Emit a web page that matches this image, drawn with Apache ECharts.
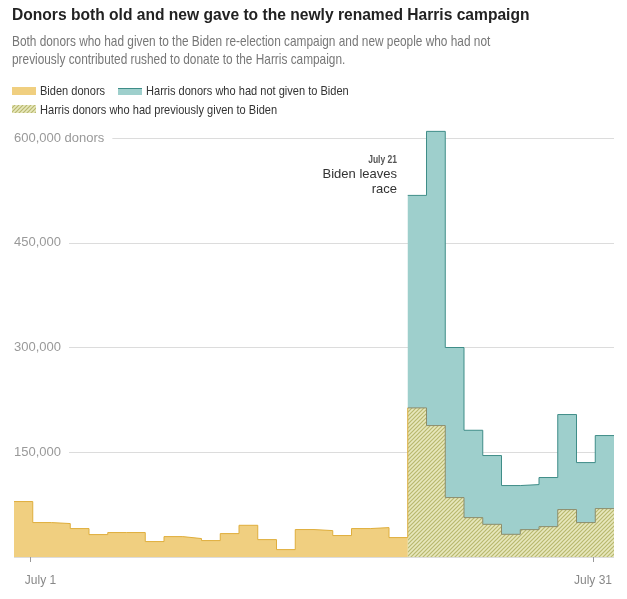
<!DOCTYPE html>
<html><head><meta charset="utf-8">
<script src="https://cdn.jsdelivr.net/npm/echarts@6/dist/echarts.min.js"></script>
<style>html,body{margin:0;padding:0;background:#fff}#c{width:627px;height:599px}</style>
</head><body><div id="c"></div>
<script>
// ---- data (day index 0 = June 30, 21 = July 21, 31 = July 31) ----
const dayLabels = ['June 30','July 1','July 2','July 3','July 4','July 5','July 6','July 7','July 8','July 9','July 10','July 11','July 12','July 13','July 14','July 15','July 16','July 17','July 18','July 19','July 20','July 21','July 22','July 23','July 24','July 25','July 26','July 27','July 28','July 29','July 30','July 31'];
const bidenDonors = [79400,49300,47900,40700,32100,35000,35000,22100,29200,26400,23500,33500,45400,24900,10600,39300,37800,30700,40700,42100,27800];
const harrisPrevBiden = [213500,188200,85100,56400,46800,32500,39200,43500,67900,49300,69300];
const harrisNew = [304300,421300,214900,125100,98500,69800,64500,70300,136100,85900,104600];
const yTicks = [0,150000,300000,450000,600000];
const xTickDays = [1,31];
const xTickLabels = ['July 1','July 31'];

const FA = '"Liberation Sans",Arial,sans-serif';

// hatch pattern
function hatch(){
  const s=4, c=document.createElement('canvas'); c.width=s; c.height=s;
  const g=c.getContext('2d');
  g.fillStyle='#e8e8bd'; g.fillRect(0,0,s,s);
  g.strokeStyle='#b8b86e'; g.lineWidth=1.2;
  g.beginPath();
  g.moveTo(0,s); g.lineTo(s,0);
  g.moveTo(-1,1); g.lineTo(1,-1);
  g.moveTo(s-1,s+1); g.lineTo(s+1,s-1);
  g.stroke();
  return c;
}
const hatchFill = {image: hatch(), repeat: 'repeat'};

const hStart = bidenDonors.length;
const bidenData = bidenDonors.map((v,i)=>[i,v]);
bidenData.push([hStart, bidenDonors[bidenDonors.length-1]]);
bidenData.push([hStart, harrisPrevBiden[0]]);
const prevData = harrisPrevBiden.map((v,i)=>[hStart+i,v]);
prevData.push([hStart+harrisPrevBiden.length, harrisPrevBiden[harrisPrevBiden.length-1]]);
const totalData = harrisNew.map((v,i)=>[hStart+i, v+harrisPrevBiden[i]]);
totalData.push([hStart+harrisNew.length, harrisNew[harrisNew.length-1]+harrisPrevBiden[harrisPrevBiden.length-1]]);

const fmt = v => v===0 ? '' : (v===yTicks[yTicks.length-1] ? v.toLocaleString('en-US')+' donors' : v.toLocaleString('en-US'));
const tickOffset = -0.12;

const chart = echarts.init(document.getElementById('c'));
chart.setOption({
  animation:false,
  backgroundColor:'#fff',
  grid:{left:14,right:13,top:138,bottom:42,containLabel:false},
  xAxis:{type:'value',min:0,max:dayLabels.length,
    offset:9,
    axisLine:{show:false},
    splitLine:{show:false},
    axisTick:{show:true,length:5,lineStyle:{color:'#999'},customValues:xTickDays.map(d=>d+tickOffset)},
    axisLabel:{customValues:xTickDays.map(d=>d+tickOffset),margin:9,color:'#888',fontFamily:FA,fontSize:12,
      formatter:v=>{const i=xTickDays.findIndex(d=>Math.abs(d+tickOffset-v)<1e-6); return i===0?'{a|'+xTickLabels[i]+'}':xTickLabels[i];},
      rich:{a:{padding:[0,0,0,20],color:'#888',fontFamily:FA,fontSize:12}}}
  },
  yAxis:[{type:'value',min:yTicks[0],max:yTicks[yTicks.length-1],interval:yTicks[1]-yTicks[0],
    axisLine:{show:false},axisTick:{show:false},axisLabel:{show:false},
    splitLine:{show:true,lineStyle:{color:'#dcdcdc',width:1}}},
   {type:'value',min:yTicks[0],max:yTicks[yTicks.length-1],interval:yTicks[1]-yTicks[0],z:5,
    position:'left',axisLine:{show:false},axisTick:{show:false},splitLine:{show:false},
    axisLabel:{inside:true,margin:0,showMinLabel:false,color:'#999',fontFamily:FA,fontSize:13,formatter:fmt,
      backgroundColor:'#fff',padding:[2,8,2,0]}}],
  series:[
    {name:'Harris donors who had not given to Biden',type:'line',step:'end',data:totalData,symbol:'none',clip:false,z:2,
      lineStyle:{color:'#3f8d88',width:1},areaStyle:{color:'#9ecfcc',opacity:1}},
    {name:'Harris donors who had previously given to Biden',type:'line',step:'end',data:prevData,symbol:'none',clip:false,z:3,
      lineStyle:{color:'#8c8d6c',width:1},areaStyle:{color:hatchFill,opacity:1}},
    {name:'Biden donors',type:'line',step:'end',data:bidenData,symbol:'none',clip:false,z:4,
      lineStyle:{color:'#dfae3c',width:1},areaStyle:{color:'#f0cf80',opacity:1}}
  ],
  graphic:[
    {type:'text',x:12,y:16,scaleX:0.975,style:{text:'Donors both old and new gave to the newly renamed Harris campaign',font:'bold 16px '+FA,fill:'#222',verticalAlign:'middle'}},
    {type:'text',x:12,y:33,scaleX:0.79,style:{text:'Both donors who had given to the Biden re-election campaign and new people who had not\npreviously contributed rushed to donate to the Harris campaign.',font:'15px '+FA,fill:'#777',lineHeight:18}},
    {type:'rect',shape:{x:12,y:87,width:24,height:8},style:{fill:'#f0cf80'}},
    {type:'text',x:40,y:91,scaleX:0.85,style:{text:'Biden donors',font:'13px '+FA,fill:'#333',verticalAlign:'middle'}},
    {type:'rect',shape:{x:118,y:88,width:24,height:7},style:{fill:'#9ecfcc'}},
    {type:'rect',shape:{x:118,y:88,width:24,height:1},style:{fill:'#3f8d88'}},
    {type:'text',x:146,y:91,scaleX:0.85,style:{text:'Harris donors who had not given to Biden',font:'13px '+FA,fill:'#333',verticalAlign:'middle'}},
    {type:'rect',shape:{x:12,y:105,width:24,height:8},style:{fill:hatchFill}},
    {type:'text',x:40,y:110,scaleX:0.85,style:{text:'Harris donors who had previously given to Biden',font:'13px '+FA,fill:'#333',verticalAlign:'middle'}},
    {type:'text',x:397,y:160,scaleX:0.85,style:{text:'July 21',font:'bold 10px '+FA,fill:'#555',align:'right',verticalAlign:'middle'}},
    {type:'text',x:397,y:174,style:{text:'Biden leaves',font:'13px '+FA,fill:'#333',align:'right',verticalAlign:'middle'}},
    {type:'text',x:397,y:189,style:{text:'race',font:'13px '+FA,fill:'#333',align:'right',verticalAlign:'middle'}}
  ]
});
</script></body></html>
